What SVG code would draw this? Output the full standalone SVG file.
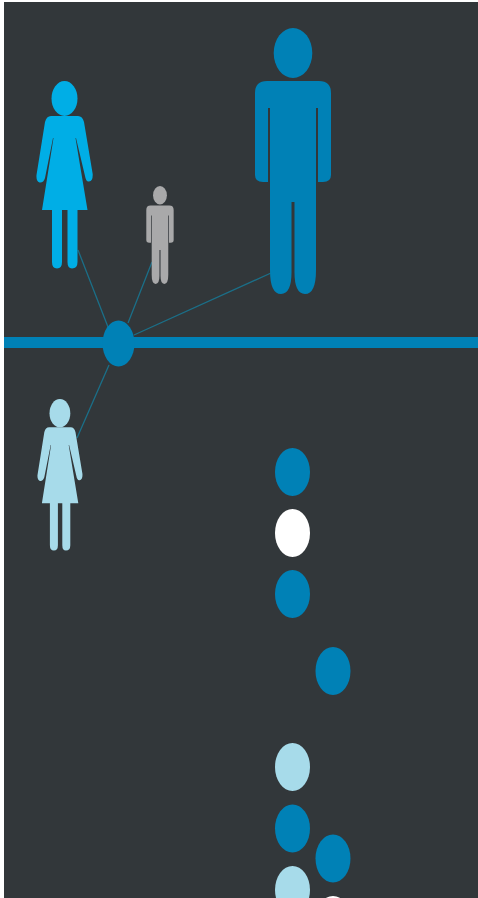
<svg xmlns="http://www.w3.org/2000/svg" width="478" height="898" viewBox="0 0 478 898">
<style>
.blue{fill:#0081b6}.pale{fill:#a7dbea}.white{fill:#fff}.cyan{fill:#00aee6}.grey{fill:#a9a9aa}
.link{stroke:#1b6f88;stroke-width:1.3;fill:none}
</style>
<defs>
<g id="woman">
<ellipse cx="64.5" cy="98.5" rx="13" ry="17.5"/>
<path d="M51 116H78Q82.500 116 84 122L92.700 174Q93 181 89 181.500Q86 182 85 176L76 138L75.500 138L87.500 210H67.500V262Q67.500 268.500 72 268.500Q77.500 268.500 77.500 262V210H62V262Q62 268.500 57 268.500Q52 268.500 52 262V210H42L53.500 138L53 138L45 178Q43.500 183 39.500 182.500Q36 181 36.500 175L45 122Q46.500 116 51 116Z"/>
</g>
<g id="man">
<ellipse cx="293" cy="53" rx="19.300" ry="25"/>
<path d="M267 81H319Q331 81 331 93V175Q331 182 323 182H318V108H316V270Q316 294 305 294Q294 294 294.500 270V202H291.500V270Q292 294 281 294Q270 294 270 270V108H268V182H263Q255 182 255 175V93Q255 81 267 81Z"/>
</g>
</defs>
<rect width="478" height="898" fill="#fff"/>
<rect id="background" x="4" y="2" width="474" height="896" fill="#32373a"/>
<g id="connectors">
<path class="link" d="M78 250L108 327M152 262L128 323M271 273L134 335M77 438L109 365"/>
</g>
<rect id="axis" class="blue" x="4" y="337" width="474" height="11"/>
<g id="hub"><ellipse class="blue" cx="118.500" cy="343.500" rx="16" ry="23"/></g>
<g id="woman-cyan" class="cyan"><use href="#woman"/></g>
<g id="man-large" class="blue"><use href="#man"/></g>
<g id="man-small" class="grey"><use href="#man" transform="translate(54.500 175.700) scale(.36 .368)"/></g>
<g id="woman-pale" class="pale"><use href="#woman" transform="translate(8.300 333.700) scale(.8 .807)"/></g>
<g id="dot-1"><ellipse class="blue" cx="292.500" cy="472" rx="17.500" ry="24"/></g>
<g id="dot-2"><ellipse class="white" cx="292.500" cy="533" rx="17.500" ry="24"/></g>
<g id="dot-3"><ellipse class="blue" cx="292.500" cy="594" rx="17.500" ry="24"/></g>
<g id="dot-4"><ellipse class="blue" cx="333" cy="671" rx="17.500" ry="24"/></g>
<g id="dot-5"><ellipse class="pale" cx="292.500" cy="767" rx="17.500" ry="24"/></g>
<g id="dot-6"><ellipse class="blue" cx="292.500" cy="828.500" rx="17.500" ry="24"/></g>
<g id="dot-7"><ellipse class="blue" cx="333" cy="858.500" rx="17.500" ry="24"/></g>
<g id="dot-8"><ellipse class="pale" cx="292.500" cy="890" rx="17.500" ry="24"/></g>
<g id="dot-9"><ellipse class="white" cx="333" cy="920" rx="17.500" ry="24"/></g>
</svg>
